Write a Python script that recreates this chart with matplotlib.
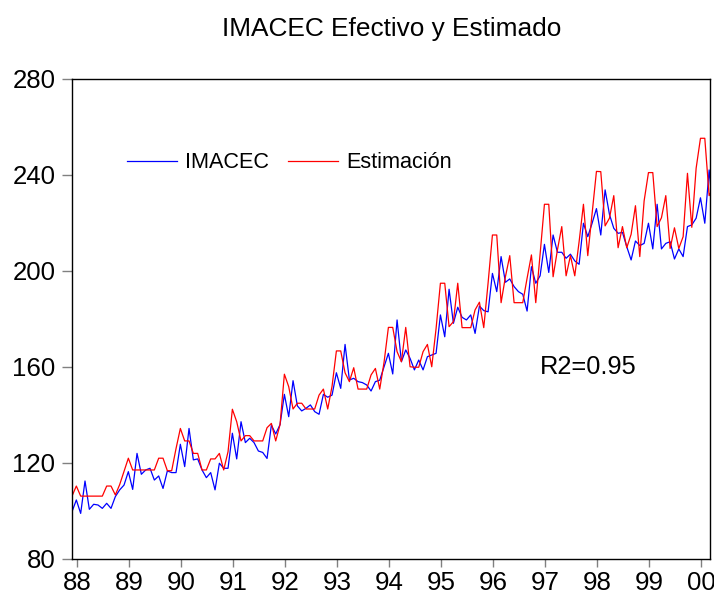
import numpy as np
import matplotlib
matplotlib.use("Agg")
import matplotlib.pyplot as plt

plt.rcParams["font.family"] = ["Liberation Sans", "DejaVu Sans"]

# Monthly series
imacec = [
    99.7, 104.6, 99.0, 112.5, 100.7, 102.8, 102.5, 101.1, 103.2, 101.1, 106.0, 108.8,
    110.8, 116.4, 109.0, 124.0, 115.3, 117.1, 117.8, 112.9, 114.6, 109.4, 116.7, 116.0,
    116.0, 127.8, 118.5, 134.4, 121.3, 121.7, 117.1, 113.9, 116.0, 108.8, 119.9, 117.8,
    117.8, 132.4, 121.7, 137.2, 128.5, 130.3, 128.5, 125.0, 124.4, 121.9, 135.8, 132.1,
    136.0, 148.6, 139.3, 154.3, 143.8, 141.7, 142.8, 144.2, 141.4, 140.3, 148.6, 147.4,
    148.3, 157.6, 151.1, 169.4, 154.6, 155.3, 153.9, 153.5, 152.5, 150.0, 153.9, 154.5,
    160.1, 165.7, 157.1, 179.6, 162.2, 167.1, 163.6, 158.8, 162.9, 158.8, 164.3, 165.0,
    165.7, 181.7, 172.6, 192.4, 178.2, 184.9, 180.7, 179.6, 181.7, 174.0, 185.4, 183.5,
    183.0, 199.0, 191.4, 206.0, 195.3, 196.7, 193.5, 191.4, 190.3, 183.3, 201.8, 194.9,
    198.0, 211.1, 199.4, 215.0, 207.8, 207.8, 205.3, 207.0, 204.2, 202.8, 219.9, 214.3,
    219.9, 226.0, 215.0, 233.8, 223.6, 217.8, 215.7, 216.1, 210.1, 204.6, 212.5, 210.6,
    211.5, 219.9, 209.2, 227.8, 209.2, 211.5, 212.2, 205.0, 209.2, 206.0, 218.5, 219.2,
    222.0, 230.5, 219.9, 242.1, 222.0,
]
estimacion = [
    106.2, 110.4, 106.2, 106.2, 106.2, 106.2, 106.2, 106.2, 110.4, 110.4, 106.7, 111.0,
    116.5, 122.0, 117.1, 117.1, 117.1, 117.1, 117.1, 117.1, 122.0, 122.0, 116.8, 116.8,
    126.0, 134.4, 129.2, 129.2, 124.0, 124.0, 117.1, 117.1, 121.7, 121.7, 124.0, 117.1,
    124.7, 142.4, 137.2, 129.2, 131.4, 131.4, 129.2, 129.2, 129.2, 134.7, 136.5, 129.2,
    136.0, 157.0, 151.8, 142.5, 144.9, 144.9, 142.5, 142.5, 142.5, 148.3, 150.8, 142.5,
    152.0, 166.7, 166.7, 157.6, 153.9, 159.7, 150.8, 150.8, 150.8, 156.7, 159.4, 150.8,
    162.0, 176.5, 176.5, 166.4, 162.2, 176.5, 160.1, 159.9, 159.9, 166.4, 169.4, 160.1,
    176.0, 194.9, 194.9, 176.8, 178.9, 194.9, 176.4, 176.4, 176.4, 183.8, 187.0, 176.4,
    195.0, 215.0, 215.0, 186.8, 197.6, 206.4, 186.8, 186.8, 186.8, 197.0, 206.7, 186.8,
    207.0, 227.8, 227.8, 197.6, 208.8, 218.5, 198.0, 206.4, 198.0, 212.2, 227.8, 206.4,
    224.0, 241.5, 241.4, 218.8, 222.0, 231.4, 209.7, 218.5, 209.7, 215.3, 227.2, 206.0,
    229.2, 241.0, 241.0, 218.5, 222.2, 231.4, 209.4, 218.0, 209.4, 214.3, 240.7, 218.2,
    242.8, 255.3, 255.3, 231.4, 235.1,
]
year_labels = ["88", "89", "90", "91", "92", "93", "94", "95", "96", "97", "98", "99", "00"]

t = np.arange(len(imacec))

fig = plt.figure(figsize=(7.14, 5.95), dpi=100)
ax = fig.add_axes([72 / 714, 1 - 559 / 595, 638 / 714, 480 / 595])

ax.plot(t, imacec, color="#0000FF", lw=0.9, label="IMACEC")
ax.plot(t, estimacion, color="#FF0000", lw=0.9, label="Estimación")

ax.set_xlim(0, 147.2)
ax.set_ylim(80, 280)
ax.set_yticks(np.arange(80, 281, 40))
ax.set_xticks(1.15 + 12 * np.arange(len(year_labels)))
ax.set_xticklabels(year_labels)

for s in ax.spines.values():
    s.set_color("black")
    s.set_linewidth(1.0)
ax.tick_params(axis="both", direction="out", color="#808080", width=1.0,
               labelsize=18.6, labelcolor="black")
ax.tick_params(axis="y", length=7, pad=5)
ax.tick_params(axis="x", length=6, pad=2.5)

fig.text(392 / 714, 1 - 29 / 595, "IMACEC Efectivo y Estimado",
         ha="center", va="center", fontsize=18.9)

ax.legend(loc="center left", bbox_to_anchor=(55 / 638, 0.825), ncol=2,
          frameon=False, fontsize=15.6, borderpad=0, borderaxespad=0,
          handlelength=2.3, handletextpad=0.37, columnspacing=0.9)

ax.text((540 - 72) / 638, (559 - 367) / 480, "R2=0.95", transform=ax.transAxes,
        ha="left", va="center", fontsize=18.3)

fig.savefig("out.png", dpi=100)
